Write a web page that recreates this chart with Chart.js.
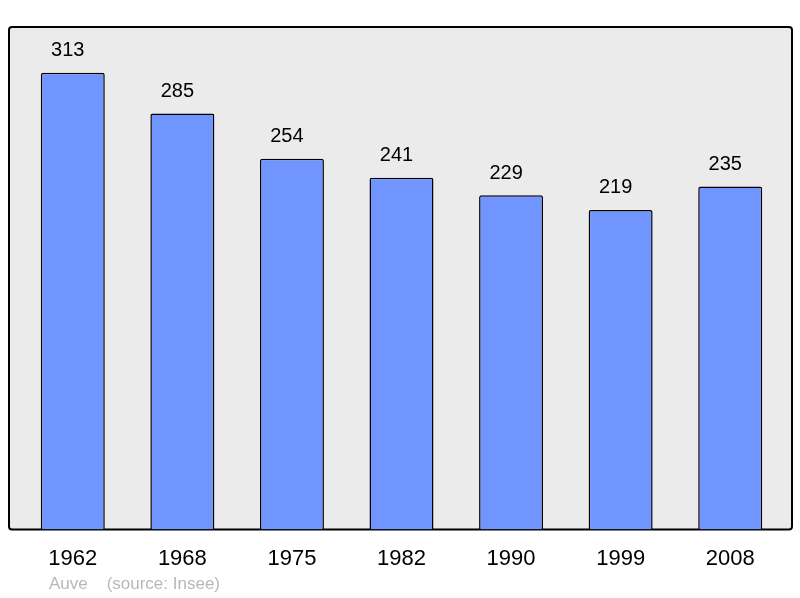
<!DOCTYPE html>
<html><head><meta charset="utf-8">
<script src="https://cdn.jsdelivr.net/npm/chart.js@4/dist/chart.umd.min.js"></script>
<style>html,body{margin:0;padding:0;background:#fff}#w{width:800px;height:598px}</style>
</head><body><div id="w"><canvas id="c"></canvas></div>
<script>
const years = ["1962","1968","1975","1982","1990","1999","2008"];
const population = [313,285,254,241,229,219,235];
const sourceText = "Auve    (source: Insee)";

const boxPlugin = {
  id:'box',
  beforeDraw(chart){
    const {ctx, chartArea:a} = chart;
    const l=a.left-9, r=a.right+7, t=a.top, b=a.bottom;
    ctx.save();
    ctx.beginPath();
    ctx.roundRect(l,t,r-l,b-t,3);
    ctx.fillStyle='#ebebeb';ctx.fill();
    ctx.lineWidth=2;ctx.strokeStyle='#000';ctx.stroke();
    ctx.restore();
  },
  afterDatasetsDraw(chart){
    const {ctx} = chart;
    const meta = chart.getDatasetMeta(0);
    ctx.save();
    ctx.font='20px "Liberation Sans", Arial, sans-serif';
    ctx.fillStyle='#000';ctx.textAlign='center';ctx.textBaseline='middle';
    meta.data.forEach((bar,i)=>{
      ctx.fillText(String(population[i]), bar.x-5, bar.y-22);
    });
    ctx.font='17px "Liberation Sans", Arial, sans-serif';
    ctx.fillStyle='#b8b8b8';ctx.textAlign='left';
    ctx.fillText(sourceText, 49, 584);
    ctx.restore();
  }
};

new Chart(document.getElementById('c'),{
  type:'bar',
  data:{labels:years,datasets:[{data:population,backgroundColor:'#7095ff',borderColor:'#000',borderWidth:1.5,borderRadius:2,borderSkipped:'bottom',barPercentage:0.584,categoryPercentage:1}]},
  options:{
    responsive:true,maintainAspectRatio:false,animation:false,
    layout:{padding:{left:18,right:15,top:27,bottom:18}},
    plugins:{legend:{display:false},tooltip:{enabled:false}},
    scales:{
      x:{grid:{display:false},border:{display:false},ticks:{padding:8,color:'#000',font:{size:22,family:'"Liberation Sans", Arial, sans-serif'},maxRotation:0}},
      y:{display:false,min:0,max:344.3}
    }
  },
  plugins:[boxPlugin]
});
</script></body></html>
